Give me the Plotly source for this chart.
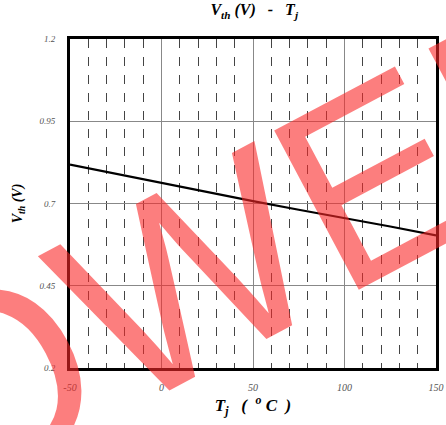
import plotly.graph_objects as go

# Vth vs Tj
tj = [-50, -25, 0, 25, 50, 75, 100, 125, 150]
vth = [0.818, 0.790, 0.764, 0.735, 0.707, 0.681, 0.656, 0.630, 0.603]

x_ticks = [-50, 0, 50, 100, 150]
y_ticks = [0.2, 0.45, 0.7, 0.95, 1.2]
y_tick_text = ["0.2", "0.45", "0.7", "0.95", "1.2"]

serif = "Liberation Serif, Times New Roman, serif"

fig = go.Figure()
fig.add_trace(
    go.Scatter(
        x=tj,
        y=vth,
        mode="lines",
        line=dict(color="black", width=2.2),
        showlegend=False,
        hoverinfo="skip",
    )
)

fig.update_layout(
    width=446,
    height=425,
    margin=dict(l=70, r=2, t=39, b=57),
    plot_bgcolor="white",
    paper_bgcolor="white",
    title=dict(
        text="V<sub>th</sub> (V)   -   T<sub>j</sub>",
        x=0.57,
        xanchor="center",
        y=0.99,
        yanchor="top",
        font=dict(family=serif, size=16, color="black", style="italic", weight="bold"),
    ),
    xaxis=dict(
        range=[-50, 150],
        tickvals=x_ticks,
        ticktext=[str(v) for v in x_ticks],
        tickfont=dict(family=serif, size=10, color="#555", style="italic"),
        ticklabeloverflow="allow",
        showgrid=True,
        gridcolor="#888",
        gridwidth=1,
        minor=dict(dtick=10, showgrid=True, gridcolor="#444", griddash="dash", gridwidth=1),
        zeroline=False,
        showline=True,
        linecolor="black",
        linewidth=3,
        mirror=True,
        ticks="",
        ticklabelstandoff=8,
        title=dict(
            text="T<sub>j</sub>   (  <sup>o</sup> C  )",
            font=dict(family=serif, size=17, color="black", style="italic", weight="bold"),
            standoff=4,
        ),
    ),
    yaxis=dict(
        range=[0.2, 1.2],
        tickvals=y_ticks,
        ticktext=y_tick_text,
        tickfont=dict(family=serif, size=9, color="#555", style="italic"),
        showgrid=True,
        gridcolor="#888",
        gridwidth=1,
        zeroline=False,
        showline=True,
        linecolor="black",
        linewidth=3,
        mirror=True,
        ticks="",
        ticklabelstandoff=10,
        title=dict(
            text="V<sub>th</sub> (V)",
            font=dict(family=serif, size=14, color="black", style="italic", weight="bold"),
            standoff=14,
        ),
    ),
)

# red watermark over the plot
fig.add_annotation(
    text="POWER",
    xref="paper",
    yref="paper",
    x=0.305,
    y=0.262,
    xanchor="center",
    yanchor="middle",
    showarrow=False,
    textangle=-28,
    font=dict(family="Liberation Sans, Arial, sans-serif", size=262, color="rgba(250,40,40,0.6)"),
)

fig.write_html(
    "out.html",
    config={"displayModeBar": False},
    post_script="document.body.style.margin='0';",
)
